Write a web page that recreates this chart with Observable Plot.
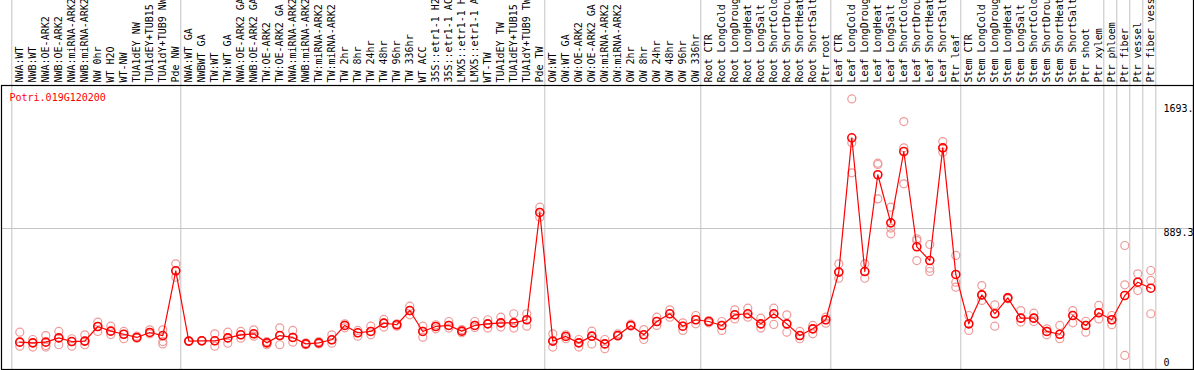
<!DOCTYPE html>
<html><head><meta charset="utf-8">
<script src="https://cdn.jsdelivr.net/npm/d3@7"></script>
<script src="https://cdn.jsdelivr.net/npm/@observablehq/plot@0.6"></script>
<style>html,body{margin:0;padding:0;background:#fff} svg{display:block}</style>
</head><body><div id="chart"></div>
<script>
const geneId = "Potri.019G120200";

const sampleLabels = [
  "NWA:WT","NWB:WT","NWA:OE-ARK2","NWB:OE-ARK2","NWA:miRNA-ARK2","NWB:miRNA-ARK2","NW 0hr","WT H2O","WT-NW",
  "TUA1dEY NW","TUA1dEY+TUB15","TUA1dY+TUB9 NW","Pde NW",
  "NWA:WT GA","NWBWT GA","TW:WT","TW:WT GA","NWA:OE-ARK2 GA","NWB:OE-ARK2 GA","TW:OE-ARK2","TW:OE-ARK2 GA",
  "NWA:miRNA-ARK2","NWB:miRNA-ARK2","TW:miRNA-ARK2","TW:miRNA-ARK2","TW 2hr","TW 8hr","TW 24hr","TW 48hr","TW 96hr",
  "TW 336hr","WT ACC","35S::etr1-1 H2","35S::etr1-1 AC","LMX5::etr1-1 H","LMX5::etr1-1 A","WT-TW","TUA1dEY TW",
  "TUA1dEY+TUB15","TUA1dY+TUB9 TW","Pde TW",
  "OW:WT","OW:WT GA","OW:OE-ARK2","OW:OE-ARK2 GA","OW:miRNA-ARK2","OW:miRNA-ARK2","OW 2hr","OW 8hr","OW 24hr",
  "OW 48hr","OW 96hr","OW 336hr",
  "Root CTR","Root LongCold","Root LongDroug","Root LongHeat","Root LongSalt","Root ShortCold","Root ShortDrou",
  "Root ShortHeat","Root ShortSalt","Ptr root",
  "Leaf CTR","Leaf LongCold","Leaf LongDroug","Leaf LongHeat","Leaf LongSalt","Leaf ShortCold","Leaf ShortDrou",
  "Leaf ShortHeat","Leaf ShortSalt","Ptr leaf",
  "Stem CTR","Stem LongCold","Stem LongDroug","Stem LongHeat","Stem LongSalt","Stem ShortCold","Stem ShortDrou",
  "Stem ShortHeat","Stem ShortSalt","Ptr shoot","Ptr xylem",
  "Ptr phloem","Ptr fiber","Ptr vessel","Ptr fiber vess"
];

const meanValues = [
  112,107,112,141,116,119,219,187,166,144,178,157,600,
  119,121,121,141,162,169,107,157,144,100,107,128,226,176,185,242,231,328,185,219,226,187,226,237,244,244,265,999,
  119,151,107,153,100,157,226,162,253,306,221,265,
  253,226,299,306,237,306,237,157,203,265,
  591,1510,595,1257,928,1416,764,670,1441,575,
  237,435,306,415,276,276,185,166,294,226,313,
  265,431,522,481
];

const replicateValues = [
  [180,84,112],[130,78,107],[157,89,78],[185,94,141],[135,84,116],[162,94,119],[249,185,219],[221,164,187],[185,135,166],
  [153,139,144],[196,169,178],[196,116,100],[648,556,600],
  [119,117,121],[121,119,123],[169,84,121],[180,105,141],[185,139,162],[196,153,169],[116,94,107],[210,94,157],
  [192,112,144],[107,94,100],[116,100,107],[162,105,128],[237,210,226],[192,153,176],[221,162,185],[267,215,242],
  [237,221,231],[358,299,328],[221,146,185],[231,203,219],[253,208,226],[198,176,187],[253,212,226],[265,208,237],
  [283,215,244],[306,208,244],[306,221,265],[1035,967,999],
  [169,78,119],[162,135,151],[130,78,107],[187,100,153],[130,66,100],[169,153,157],[235,221,226],[198,130,162],
  [283,226,253],[333,283,306],[244,192,221],[294,237,265],
  [260,244,253],[253,192,226],[333,271,299],[344,283,306],[276,208,237],[344,233,306],[299,180,237],[185,135,157],
  [226,169,203],[283,242,265],
  [648,549,591],[1776,1476,1270],[648,549,595],[1336,1327,1092],[1035,892,853],[1621,1441,1195],[819,806,670],
  [780,618,595],[1484,1411,1441],[705,522,488],
  [294,192,237],[499,397,435],[367,221,306],[419,408,415],[328,249,276],[310,253,276],[203,162,185],[226,135,166],
  [328,244,294],[255,180,226],[363,271,313],
  [294,231,265],[773,504,21],[579,465,522],[602,534,306]
];

// group separators: index of first sample in each group (last entry = end)
const groupStarts = [0,13,41,53,63,73,84,85,86,87,88];

const yTickValues = [0, 889.3, 1693];
const yTickLabels = ["0", "889.3", "1693."];

const meanRows = meanValues.map((v, i) => ({i, v}));
const replicateRows = replicateValues.flatMap((reps, i) => reps.map(v => ({i, v})));

const xDomain = [-1.4077, 90.2846];
const yDomain = [-75.25, 1867.6];
const fmtY = d => yTickLabels[yTickValues.indexOf(d)];

const chart = Plot.plot({
  width: 1194,
  height: 370,
  marginTop: 85,
  marginLeft: 1,
  marginRight: 1,
  marginBottom: 1,
  x: {type: "linear", domain: xDomain},
  y: {type: "linear", domain: yDomain},
  style: {fontFamily: "'DejaVu Sans Mono', monospace", fontSize: "10px", background: "#fff", color: "#000", overflow: "visible"},
  marks: [
    Plot.ruleY([yTickValues[1]], {stroke: "#c4c4c4", strokeWidth: 1}),
    Plot.ruleX(groupStarts, {x: d => d - 8 / 13, stroke: "#c4c4c4", strokeWidth: 1, insetTop: -85}),
    Plot.frame({stroke: "#000", strokeWidth: 1.2}),
    Plot.ruleX([xDomain[1]], {stroke: "#000", strokeWidth: 1.2, insetTop: -85}),
    Plot.dot(replicateRows, {x: "i", y: "v", r: 4, stroke: "#ee9a9a", strokeWidth: 1.2, fill: "none"}),
    Plot.line(meanRows, {x: "i", y: "v", stroke: "#ff0000", strokeWidth: 1.2}),
    Plot.dot(meanRows, {x: "i", y: "v", r: 4, stroke: "#ff0000", strokeWidth: 1.6, fill: "none"}),
    Plot.text([geneId], {frameAnchor: "top-left", dx: 8, dy: 8, lineAnchor: "top", textAnchor: "start", fill: "#ff0000", fontSize: 10}),
    Plot.axisX({anchor: "top", ticks: d3.range(sampleLabels.length), tickFormat: d => sampleLabels[d], tickRotate: -90,
      tickSize: 0, tickPadding: 3, textAnchor: "start", label: null, fontSize: 10}),
    Plot.axisY({anchor: "right", ticks: yTickValues.slice(0, 2), tickFormat: fmtY,
      tickSize: 0, tickPadding: 0, dx: -30, textAnchor: "start", lineAnchor: "top", label: null, fontSize: 10}),
    Plot.axisY({anchor: "right", ticks: yTickValues.slice(2), tickFormat: fmtY,
      tickSize: 0, tickPadding: 0, dx: -30, dy: -6, textAnchor: "start", lineAnchor: "top", label: null, fontSize: 10})
  ]
});
document.getElementById("chart").appendChild(chart);
</script>
</body></html>
